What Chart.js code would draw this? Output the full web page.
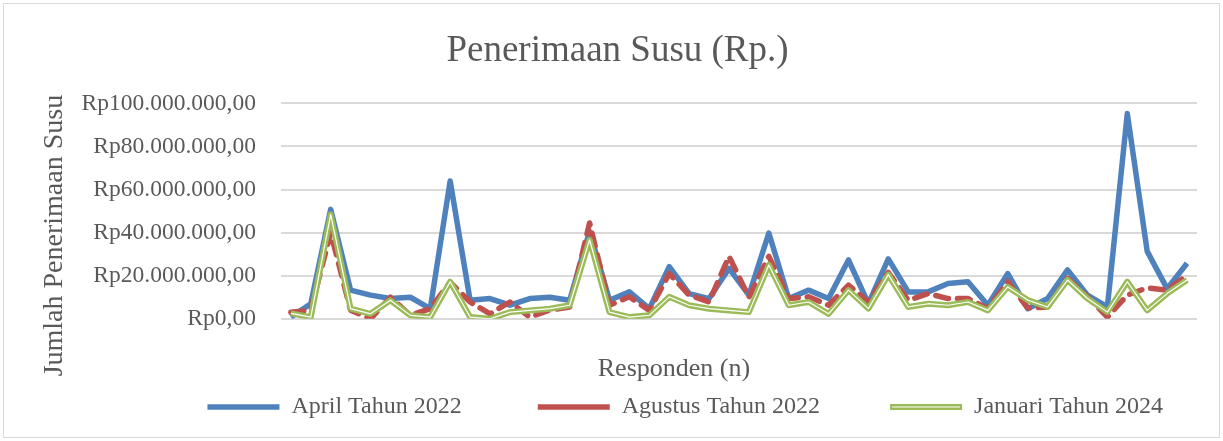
<!DOCTYPE html>
<html>
<head>
<meta charset="utf-8">
<script src="https://cdn.jsdelivr.net/npm/chart.js@4/dist/chart.umd.min.js"></script>
<style>
  html, body { margin: 0; padding: 0; background: #fff; }
  #wrap { position: relative; width: 1223px; height: 441px; }
  #frame { position: absolute; left: 3px; top: 3px; right: 3px; bottom: 3px; border: 1px solid #d9d9d9; pointer-events: none; }
</style>
</head>
<body>
<div id="wrap">
  <canvas id="chart" width="1223" height="441"></canvas>
  <div id="frame"></div>
</div>
<script>
// Data penerimaan susu per responden (Rp, dalam juta)
const responden = Array.from({ length: 46 }, (_, i) => String(i + 1));

const april2022 = [
  0.8, 7, 50.8, 13.3, 11, 9.4, 10, 4.7, 64, 8.6,
  9.4, 6.3, 9.4, 10, 8.6, 40.6, 8.6, 12.5, 4.7, 24.2,
  11.7, 9.4, 23.4, 11, 39.8, 9.4, 13.3, 9.4, 27.3, 7,
  27.8, 12.5, 12.5, 16.4, 17.2, 6.3, 21, 4.7, 9.4, 22.7,
  11, 5.5, 95.3, 31.3, 14, 25.8
];
const agustus2022 = [
  3, 4, 40, 4, 0, 10, 1.6, 4.7, 17, 7.8,
  2.3, 7.8, 0.8, 4, 5.5, 44.5, 6.3, 10.2, 3.9, 21,
  11, 7.8, 29, 10, 29, 9.4, 10.2, 6.3, 15.6, 7.8,
  21.5, 8.6, 11.7, 9.4, 9.4, 4.7, 17.2, 5, 5.5, 18.8,
  10.2, 0.8, 11, 14.4, 13.3, 20.3
];
const januari2024 = [
  2.5, 0.8, 48.4, 4.7, 2.3, 8.6, 1.6, 0.8, 17.2, 0.8,
  0, 3.1, 3.9, 4.7, 6.3, 36.7, 3.1, 0.8, 1.6, 10.2,
  6.3, 4.7, 3.9, 3.1, 25, 6.3, 7.8, 2.3, 13.3, 4.7,
  20.5, 5.5, 7, 6.3, 7.8, 3.9, 14.8, 8.7, 5.5, 18,
  9.4, 3.1, 17.2, 3.9, 11.7, 18
];
const yTicks = [0, 20, 40, 60, 80, 100];

const juta = (arr) => arr.map((v) => v * 1000000);

const formatRp = (v) => {
  const s = Math.round(v).toString().replace(/\B(?=(\d{3})+(?!\d))/g, ".");
  return "Rp" + s + ",00";
};

const serif = "'Liberation Serif', 'Times New Roman', serif";
const grey = "#595959";
// jarak antar item legenda (spasi di belakang teks)
const legendGap = [11, 10, 4];

// garis putih di tengah contoh legenda Januari (seperti di Excel)
const legendWhiteLine = {
  id: "legendWhiteLine",
  afterDraw: (chart) => {
    const legend = chart.legend;
    if (!legend || !legend.legendHitBoxes) return;
    const idx = legend.legendItems.findIndex((it) => it.datasetIndex === 2);
    const box = legend.legendHitBoxes[idx];
    if (!box) return;
    const ctx = chart.ctx;
    const y = box.top + box.height / 2;
    ctx.save();
    ctx.strokeStyle = "#ffffff";
    ctx.lineWidth = 1.2;
    ctx.beginPath();
    ctx.moveTo(box.left + 2, y);
    ctx.lineTo(box.left + 70, y);
    ctx.stroke();
    ctx.restore();
  },
};

new Chart(document.getElementById("chart"), {
  type: "line",
  data: {
    labels: responden,
    datasets: [
      {
        label: "April Tahun 2022",
        data: juta(april2022),
        borderColor: "#4F81BD",
        backgroundColor: "#4F81BD",
        borderWidth: 5.5,
        order: 4,
      },
      {
        label: "Agustus Tahun 2022",
        data: juta(agustus2022),
        borderColor: "#C0504D",
        backgroundColor: "#C0504D",
        borderWidth: 5.5,
        borderDash: [13, 9],
        borderCapStyle: "round",
        order: 3,
      },
      {
        label: "Januari Tahun 2024",
        data: juta(januari2024),
        borderColor: "#9BBB59",
        backgroundColor: "#9BBB59",
        borderWidth: 6,
        order: 2,
      },
      {
        label: "garis putih",
        data: juta(januari2024),
        borderColor: "#ffffff",
        borderWidth: 1.2,
        order: 1,
      },
    ],
  },
  options: {
    responsive: false,
    animation: false,
    events: [],
    elements: {
      point: { radius: 0 },
      line: { tension: 0, borderJoinStyle: "round" },
    },
    layout: { padding: { left: 38, right: 26, top: 22, bottom: 12 } },
    plugins: {
      title: {
        display: true,
        text: "Penerimaan Susu (Rp.)",
        color: grey,
        font: { family: serif, size: 37, weight: "normal" },
        padding: { top: 7, bottom: 30 },
      },
      legend: {
        position: "bottom",
        align: "end",
        labels: {
          color: grey,
          font: { family: serif, size: 24 },
          usePointStyle: true,
          pointStyle: "line",
          pointStyleWidth: 72,
          padding: 10,
          generateLabels: (chart) => {
            const items = Chart.defaults.plugins.legend.labels.generateLabels(chart);
            return items
              .filter((it) => it.datasetIndex < 3)
              .sort((a, b) => a.datasetIndex - b.datasetIndex)
              .map((it) => {
                it.text = it.text + " ".repeat(legendGap[it.datasetIndex]);
                return it;
              });
          },
        },
      },
      tooltip: { enabled: false },
    },
    scales: {
      x: {
        offset: true,
        grid: { display: false },
        border: { display: false },
        ticks: { display: false },
        title: {
          display: true,
          // spasi di belakang menggeser judul ke kiri seperti di Excel
          text: "Responden (n)" + " ".repeat(20),
          color: grey,
          font: { family: serif, size: 26 },
          padding: { top: 27, bottom: 0 },
        },
      },
      y: {
        min: 0,
        max: 100000000,
        afterBuildTicks: (scale) => {
          scale.ticks = yTicks.map((v) => ({ value: v * 1000000 }));
        },
        // Chart.js menghitung padding label dua kali, jadi lebarnya dikurangi
        afterFit: (scale) => {
          scale.width -= 27;
        },
        grid: { color: "#d9d9d9", lineWidth: 2, drawTicks: false },
        border: { display: false },
        ticks: {
          color: grey,
          font: { family: serif, size: 23.5 },
          padding: 25,
          callback: (v) => formatRp(v),
        },
        title: {
          display: true,
          text: "Jumlah Penerimaan Susu       ",
          color: grey,
          font: { family: serif, size: 28 },
          padding: { top: 0, bottom: 12 },
        },
      },
    },
  },
  plugins: [legendWhiteLine],
});
</script>
</body>
</html>
